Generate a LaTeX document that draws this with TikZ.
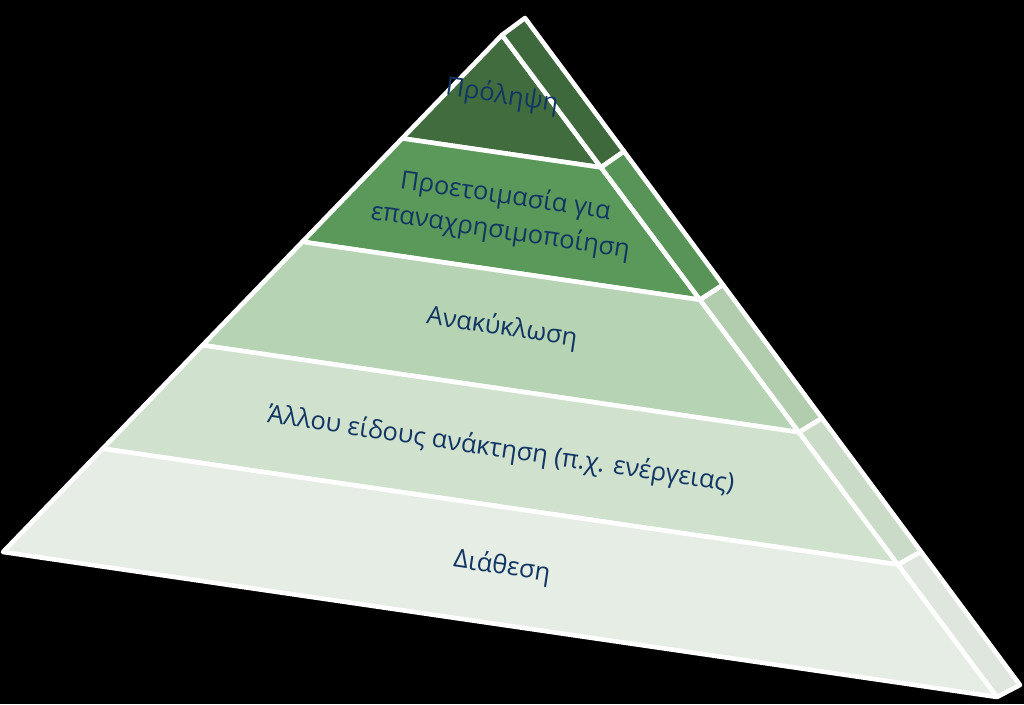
\documentclass[tikz,border=0pt]{standalone}
\usepackage{fontspec}
\setmainfont{Open Sans}
\usetikzlibrary{calc}
\definecolor{lvA}{RGB}{64,108,62}
\definecolor{lvB}{RGB}{91,153,90}
\definecolor{lvC}{RGB}{182,211,179}
\definecolor{lvD}{RGB}{208,226,206}
\definecolor{lvE}{RGB}{229,237,228}
\definecolor{txtblue}{RGB}{18,54,100}

\begin{document}
\begin{tikzpicture}[x=0.02cm,y=-0.02cm,edge/.style={draw=white,line width=2.6pt,line join=round},lbl/.style={text=txtblue,font=\fontsize{14.5}{20}\selectfont,rotate=-8.5,align=center,inner sep=1pt}]
\fill[black] (0,0) rectangle (1024,704);
\coordinate (A) at (502,35);
\coordinate (L) at (3,552);
\coordinate (R) at (997,697);
\coordinate (B) at (525,18);
\coordinate (S) at (1020,685);
% front face and side face, one band at a time
\foreach \p/\q/\col in {0/0.2/lvA,0.2/0.4/lvB,0.4/0.6/lvC,0.6/0.8/lvD,0.8/1/lvE}{
  \filldraw[edge,fill=\col] ($(A)!\p!(L)$) -- ($(A)!\q!(L)$) -- ($(A)!\q!(R)$) -- ($(A)!\p!(R)$) -- cycle;
  \filldraw[edge,fill=\col!97!black] ($(A)!\p!(R)$) -- ($(A)!\q!(R)$) -- ($(B)!\q!(S)$) -- ($(B)!\p!(S)$) -- cycle;
}
\node[lbl] (prev) at (502,96) {Πρόληψη};
\node[lbl] (reuse) at (503,214) {Προετοιμασία για\\επαναχρησιμοποίηση};
\node[lbl] (recyc) at (502,328) {Ανακύκλωση};
\node[lbl] (recov) at (501,450) {Άλλου είδους ανάκτηση (π.χ. ενέργειας)};
\node[lbl] (disp) at (502,567) {Διάθεση};
\end{tikzpicture}
\end{document}
